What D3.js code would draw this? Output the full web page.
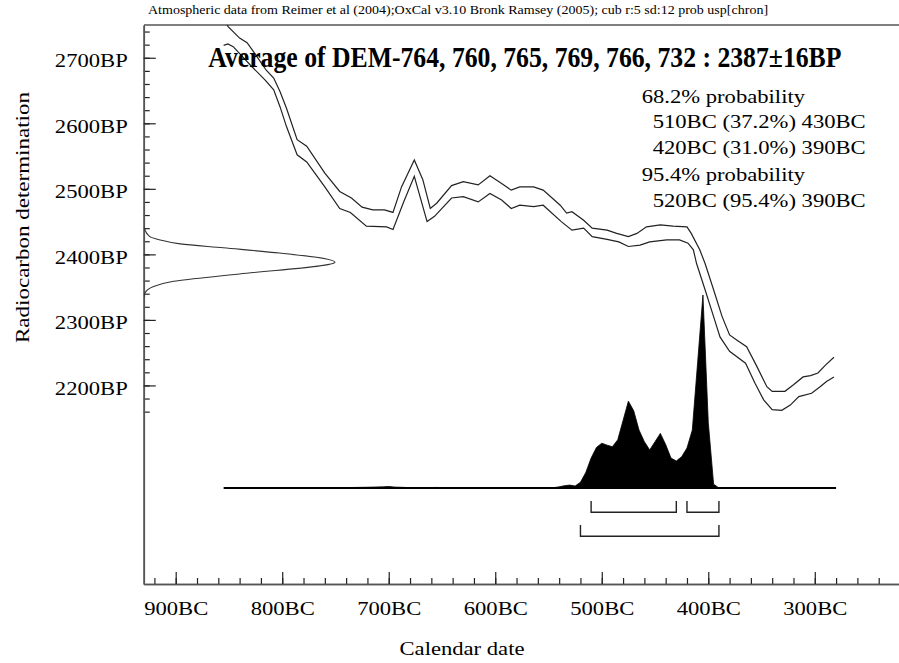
<!DOCTYPE html>
<html><head><meta charset="utf-8">
<script src="https://cdn.jsdelivr.net/npm/d3@7"></script>
<style>
body{margin:0;background:#fff}
text{font-family:"Liberation Serif","Times New Roman",serif;fill:#000}
</style>
</head><body>
<svg id="c" width="899" height="663"></svg>
<script>
// ---------- data ----------
const calUpperYears = [855, 851, 840, 833, 826, 815, 808, 802, 796, 786, 777, 760, 746, 735, 725, 715, 704, 696, 688, 676, 668, 661, 655, 641, 630, 616, 605, 594, 585, 577, 564, 555, 539, 533, 528, 517, 509, 495, 486, 475, 467, 458, 445, 433, 420, 416, 408, 403, 395, 387, 380, 373, 364, 355, 345, 340, 328, 320, 311, 304, 297, 290, 282];
const calUpperBP    = [2760, 2748, 2730, 2723, 2707, 2681, 2669, 2648, 2623, 2575, 2565, 2524, 2496, 2486, 2472, 2468, 2468, 2464, 2503, 2544, 2514, 2470, 2478, 2505, 2511, 2506, 2520, 2508, 2498, 2503, 2503, 2498, 2475, 2463, 2465, 2452, 2440, 2437, 2432, 2427, 2432, 2442, 2445, 2443, 2442, 2432, 2407, 2386, 2346, 2305, 2277, 2269, 2259, 2231, 2198, 2191, 2191, 2201, 2213, 2215, 2219, 2231, 2243];
const calLowerYears = [855, 851, 846, 830, 816, 808, 802, 796, 786, 777, 768, 760, 746, 736, 721, 702, 696, 686, 676, 664, 657, 641, 630, 616, 605, 594, 585, 577, 564, 555, 538, 528, 517, 509, 495, 484, 475, 464, 455, 439, 427, 419, 414, 411, 403, 395, 389, 380, 365, 356, 348, 340, 331, 323, 315, 303, 295, 289, 282];
const calLowerBP    = [2719, 2721, 2717, 2689, 2666, 2651, 2625, 2595, 2552, 2541, 2521, 2503, 2470, 2464, 2443, 2442, 2438, 2480, 2519, 2450, 2458, 2486, 2488, 2480, 2493, 2483, 2470, 2475, 2473, 2475, 2450, 2437, 2440, 2427, 2423, 2419, 2412, 2414, 2419, 2422, 2422, 2417, 2407, 2386, 2346, 2305, 2274, 2252, 2234, 2203, 2178, 2163, 2162, 2170, 2183, 2188, 2198, 2206, 2213];

const probYears  = [760, 740, 720, 705, 700, 695, 680, 670, 655, 645, 630, 560, 545, 540, 535, 530, 525, 520, 515, 510, 505, 500, 495, 490, 485, 480, 475, 470, 465, 460, 455, 450, 445, 440, 435, 430, 425, 420, 415, 410, 405, 400, 395, 390, 385];
const probValues = [0, 0.002, 0.004, 0.006, 0.008, 0.005, 0.002, 0.001, 0.003, 0.001, 0, 0, 0.002, 0.006, 0.012, 0.015, 0.01, 0.03, 0.08, 0.155, 0.21, 0.232, 0.222, 0.214, 0.25, 0.35, 0.45, 0.40, 0.30, 0.24, 0.197, 0.24, 0.283, 0.225, 0.155, 0.14, 0.162, 0.207, 0.30, 0.65, 1.0, 0.34, 0.02, 0, 0];
const probRange = [855, 280];

const measBP     = [2441, 2427, 2422, 2416, 2410, 2402, 2393, 2388, 2370, 2359, 2351, 2341, 2335];
const measHeight = [0, 0.03, 0.085, 0.19, 0.415, 0.71, 0.955, 1, 0.5, 0.155, 0.05, 0.005, 0];

const ranges68 = [[510, 430], [420, 390]];
const ranges95 = [[520, 390]];

const xMajorTicks = [900, 800, 700, 600, 500, 400, 300];
const xMinorTicks = d3.range(920, 230, -20);
const yMajorTicks = [2700, 2600, 2500, 2400, 2300, 2200];
const yMinorTicks = d3.range(2160, 2741, 20);

const headerText = "Atmospheric data from Reimer et al (2004);OxCal v3.10 Bronk Ramsey (2005); cub r:5 sd:12 prob usp[chron]";
const titleText = "Average of DEM-764, 760, 765, 769, 766, 732 : 2387\u00b116BP";
const rangeLines = ["68.2% probability", "510BC (37.2%) 430BC", "420BC (31.0%) 390BC", "95.4% probability", "520BC (95.4%) 390BC"];
const rangeIndent = [0, 1, 1, 0, 1];
const xTitle = "Calendar date";
const yTitle = "Radiocarbon determination";

// ---------- drawing ----------
const svg = d3.select("#c");
svg.append("rect").attr("width", 899).attr("height", 663).attr("fill", "#fff");

const x = d3.scaleLinear().domain([930, 220]).range([143.75, 900]);
const y = d3.scaleLinear().domain([1897, 2750]).range([584, 25]);
const pY = d3.scaleLinear().domain([0, 1]).range([488, 295]);
const gX = d3.scaleLinear().domain([0, 1]).range([144, 335]);

const STRETCH = 1.16;
function stretch(sel, f) {
  sel.each(function () {
    const L = this.getComputedTextLength();
    d3.select(this).attr("textLength", L * f).attr("lengthAdjust", "spacingAndGlyphs");
  });
}
// fit a text to a given width by a horizontal scale transform
function fitWidth(sel, x0, y0, width) {
  sel.each(function () {
    const L = this.getComputedTextLength();
    d3.select(this).attr("transform", `translate(${x0},${y0}) scale(${width / L},1)`);
  });
}

svg.append("defs").append("clipPath").attr("id", "plotClip")
  .append("rect").attr("x", 144).attr("y", 25).attr("width", 760).attr("height", 559);

// header
svg.append("text").attr("font-size", 12.5).text(headerText).call(fitWidth, 148, 14, 621);

// top border
svg.append("line").attr("x1", 144).attr("x2", 899).attr("y1", y(2750)).attr("y2", y(2750))
  .attr("stroke", "#555").attr("stroke-width", 1.6);

// axes
const xAxisG = svg.append("g").attr("transform", `translate(0,${y(1897)})`);
xAxisG.append("g").call(d3.axisBottom(x).tickValues(xMinorTicks).tickSize(-6).tickSizeOuter(0).tickFormat(""));
xAxisG.append("g").call(d3.axisBottom(x).tickValues(xMajorTicks).tickSize(-12).tickSizeOuter(0).tickPadding(17)
  .tickFormat(d => d + "BC"));
xAxisG.selectAll(".domain").attr("stroke", "#555").attr("stroke-width", 1.6);
xAxisG.selectAll(".tick line").attr("stroke", "#222").attr("stroke-width", 1.2);
xAxisG.selectAll("text").attr("font-size", 19.5).attr("font-family", null).call(stretch, STRETCH);

const yAxisG = svg.append("g").attr("transform", `translate(${x(930)},0)`);
yAxisG.append("g").call(d3.axisLeft(y).tickValues(yMinorTicks).tickSize(-6).tickSizeOuter(0).tickFormat(""));
yAxisG.append("g").call(d3.axisLeft(y).tickValues(yMajorTicks).tickSize(-12).tickSizeOuter(0).tickPadding(16)
  .tickFormat(d => d + "BP"));
yAxisG.selectAll(".domain").attr("stroke", "#555").attr("stroke-width", 1.6);
yAxisG.selectAll(".tick line").attr("stroke", "#222").attr("stroke-width", 1.2);
yAxisG.selectAll("text").attr("font-size", 19.5).attr("font-family", null).attr("dy", "0.46em").call(stretch, STRETCH);

// calibration curves
const plot = svg.append("g").attr("clip-path", "url(#plotClip)");
const calLine = d3.line().x(d => x(d[0])).y(d => y(d[1]));
plot.append("path").datum(d3.zip(calUpperYears, calUpperBP)).attr("d", calLine)
  .attr("fill", "none").attr("stroke", "#222").attr("stroke-width", 1.2);
plot.append("path").datum(d3.zip(calLowerYears, calLowerBP)).attr("d", calLine)
  .attr("fill", "none").attr("stroke", "#222").attr("stroke-width", 1.2);

// measurement distribution (left)
plot.append("path").datum(d3.zip(measBP, measHeight))
  .attr("d", d3.line().x(d => gX(d[1])).y(d => y(d[0])).curve(d3.curveMonotoneY))
  .attr("fill", "none").attr("stroke", "#333").attr("stroke-width", 1.1);

// calibrated probability
svg.append("path").datum(d3.zip(probYears, probValues))
  .attr("d", d3.area().x(d => x(d[0])).y0(pY(0)).y1(d => pY(d[1])))
  .attr("fill", "#000").attr("stroke", "#000").attr("stroke-width", 0.8);
svg.append("path").datum(probRange)
  .attr("d", d3.line().x(d => x(d)).y(() => pY(0)))
  .attr("stroke", "#000").attr("stroke-width", 1.8);

// range brackets
function bracket(r, top, bottom) {
  const p = d3.path();
  p.moveTo(x(r[0]), top); p.lineTo(x(r[0]), bottom); p.lineTo(x(r[1]), bottom); p.lineTo(x(r[1]), top);
  return p.toString();
}
svg.selectAll(".b68").data(ranges68).join("path").attr("d", r => bracket(r, 501, 512.3))
  .attr("fill", "none").attr("stroke", "#222").attr("stroke-width", 1.4);
svg.selectAll(".b95").data(ranges95).join("path").attr("d", r => bracket(r, 525, 536.3))
  .attr("fill", "none").attr("stroke", "#222").attr("stroke-width", 1.4);

// title
svg.append("text").attr("font-size", 29).attr("font-weight", "bold").text(titleText)
  .call(fitWidth, 208.3, 66.7, 633.5);

// range text block
const lineY = [102.7, 128, 153.5, 181, 207];
svg.selectAll(".rl").data(rangeLines).join("text")
  .attr("x", (d, i) => rangeIndent[i] ? 652.7 : 641.7)
  .attr("y", (d, i) => lineY[i]).attr("font-size", 19.5).text(d => d)
  .call(stretch, STRETCH);

// axis titles
svg.append("text").attr("x", 462).attr("y", 655).attr("text-anchor", "middle").attr("font-size", 19.5)
  .text(xTitle).call(stretch, STRETCH);
svg.append("text").attr("transform", "translate(29,217.5) rotate(-90)").attr("text-anchor", "middle")
  .attr("font-size", 19.5).text(yTitle).attr("textLength", 251).attr("lengthAdjust", "spacingAndGlyphs");
</script>
</body></html>
